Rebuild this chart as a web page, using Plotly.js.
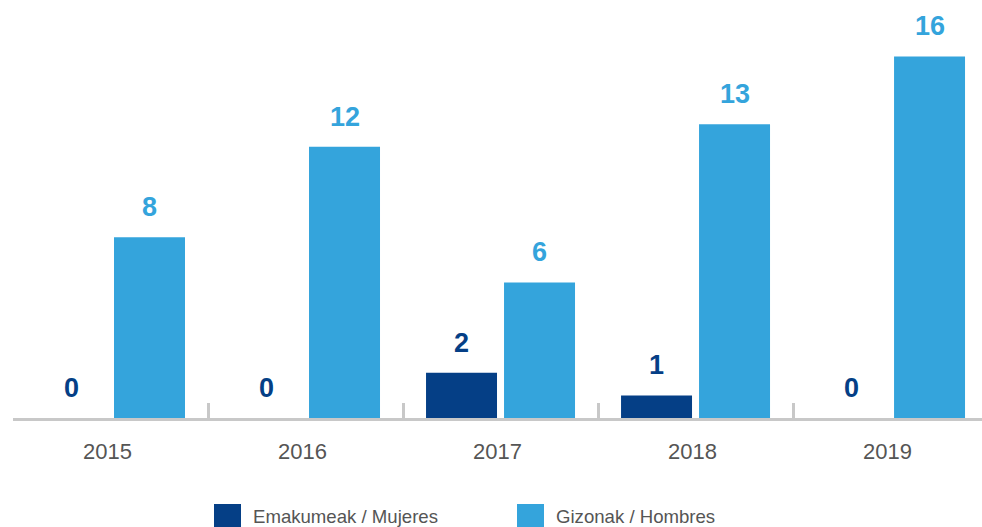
<!DOCTYPE html>
<html>
<head>
<meta charset="utf-8">
<script src="https://cdn.plot.ly/plotly-3.0.1.min.js"></script>
<style>
  html, body { margin: 0; padding: 0; background: #fff; }
  #chart { width: 982px; height: 527px; }
</style>
</head>
<body>
<div id="chart"></div>
<script>
var years = ["2015", "2016", "2017", "2018", "2019"];
var mujeres = [0, 0, 2, 1, 0];
var hombres = [8, 12, 6, 13, 16];
var seriesNames = ["Emakumeak / Mujeres", "Gizonak / Hombres"];

var darkBlue = "#053f86";
var lightBlue = "#34a4dc";
var sans = "Liberation Sans, Arial, sans-serif";

var data = [
  {
    type: "bar",
    x: years,
    y: mujeres,
    name: seriesNames[0],
    marker: {color: darkBlue},
    hoverinfo: "none"
  },
  {
    type: "bar",
    x: years,
    y: hombres,
    name: seriesNames[1],
    marker: {color: lightBlue},
    hoverinfo: "none"
  }
];

// value labels above each bar; on a category axis annotations take the
// category index, then get shifted onto their bar's slot in the group
var annotations = [];
function addLabels(vals, shift, color) {
  for (var i = 0; i < years.length; i++) {
    annotations.push({
      x: i,
      y: vals[i],
      xref: "x",
      yref: "y",
      text: "<b>" + vals[i] + "</b>",
      showarrow: false,
      xshift: shift,
      yshift: 13,
      yanchor: "bottom",
      font: {family: sans, size: 27, color: color}
    });
  }
}
addLabels(mujeres, -39, darkBlue);
addLabels(hombres, 39, lightBlue);

// legend drawn by hand: big squares like the original, below the plot
// (paper coords: plot spans x 13..982 px, y 0..418 px)
function px2x(p) { return (p - 13) / 969; }
function px2y(p) { return (418 - p) / 418; }
var shapes = [];
var legendLeft = [214, 517];
var legendColors = [darkBlue, lightBlue];
for (var k = 0; k < seriesNames.length; k++) {
  shapes.push({
    type: "rect", xref: "paper", yref: "paper",
    x0: px2x(legendLeft[k]), x1: px2x(legendLeft[k] + 27),
    y0: px2y(504), y1: px2y(530),
    fillcolor: legendColors[k], line: {width: 0}
  });
  annotations.push({
    xref: "paper", yref: "paper",
    x: px2x(legendLeft[k] + 37), y: px2y(516.5),
    xanchor: "left", yanchor: "middle",
    text: seriesNames[k], showarrow: false,
    font: {family: sans, size: 18.6, color: "#555"}
  });
}

var layout = {
  width: 982,
  height: 527,
  margin: {l: 13, r: 0, t: 0, b: 109, autoexpand: false},
  paper_bgcolor: "#fff",
  plot_bgcolor: "#fff",
  barmode: "group",
  bargap: 0.2,
  bargroupgap: 0.09,
  showlegend: false,
  xaxis: {
    type: "category",
    range: [-0.5, 4.469],
    showline: true,
    linecolor: "#c8c8c8",
    linewidth: 3,
    ticks: "inside",
    tickson: "boundaries",
    ticklen: 15,
    tickwidth: 3,
    tickcolor: "#c8c8c8",
    showgrid: false,
    zeroline: false,
    ticklabelstandoff: 12,
    ticklabelshift: -3,
    tickfont: {family: sans, size: 22, color: "#555"},
    fixedrange: true
  },
  yaxis: {
    range: [0, 18.5],
    showticklabels: false,
    ticks: "",
    showline: false,
    showgrid: false,
    zeroline: false,
    fixedrange: true
  },
  shapes: shapes,
  annotations: annotations
};

Plotly.newPlot("chart", data, layout, {displayModeBar: false, staticPlot: true});
</script>
</body>
</html>
